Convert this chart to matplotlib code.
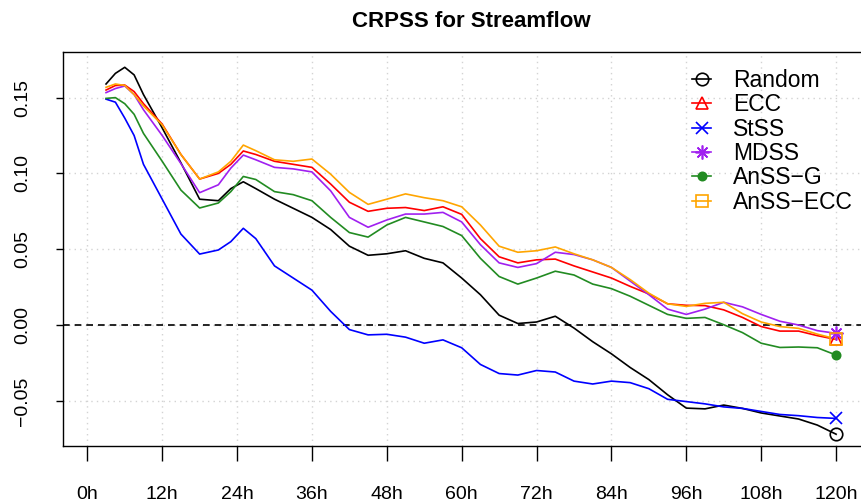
import matplotlib
matplotlib.use("Agg")
import matplotlib.pyplot as plt
from matplotlib.ticker import FuncFormatter

plt.rcParams['font.family'] = ['Liberation Sans', 'DejaVu Sans']

# lead times (hours) at which the skill scores were sampled
hours = [3, 4.5, 6, 7.5, 9, 12, 15, 18, 21, 23, 25, 27, 30, 33, 36, 39, 42, 45,
         48, 51, 54, 57, 60, 63, 66, 69, 72, 75, 78, 81, 84, 87, 90, 93, 96, 99,
         102, 105, 108, 111, 114, 117, 120]

random_ss = [0.159, 0.166, 0.170, 0.165, 0.152, 0.130, 0.107, 0.083, 0.082, 0.090,
             0.0945, 0.090, 0.083, 0.077, 0.071, 0.063, 0.052, 0.046, 0.047, 0.049,
             0.044, 0.041, 0.031, 0.020, 0.0065, 0.001, 0.002, 0.0058, -0.002,
             -0.011, -0.019, -0.028, -0.036, -0.046, -0.0548, -0.0553, -0.0528,
             -0.055, -0.058, -0.060, -0.062, -0.066, -0.072]
ecc = [0.155, 0.158, 0.1583, 0.154, 0.146, 0.1325, 0.1125, 0.0963, 0.100, 0.106,
       0.1148, 0.1125, 0.108, 0.106, 0.104, 0.093, 0.081, 0.075, 0.077, 0.0775,
       0.0755, 0.078, 0.073, 0.057, 0.045, 0.041, 0.043, 0.0435, 0.039, 0.035,
       0.031, 0.0255, 0.0205, 0.014, 0.013, 0.0128, 0.010, 0.005, -0.001, -0.004,
       -0.004, -0.007, -0.0095]
stss = [0.149, 0.147, 0.1365, 0.125, 0.106, 0.083, 0.060, 0.0468, 0.0495, 0.055,
        0.0638, 0.057, 0.039, 0.031, 0.023, 0.009, -0.003, -0.0065, -0.0061,
        -0.008, -0.012, -0.0098, -0.015, -0.026, -0.032, -0.033, -0.030, -0.031,
        -0.037, -0.0389, -0.037, -0.038, -0.042, -0.049, -0.0505, -0.052, -0.054,
        -0.055, -0.057, -0.059, -0.0598, -0.061, -0.0616]
mdss = [0.1533, 0.156, 0.1577, 0.152, 0.142, 0.125, 0.1065, 0.0873, 0.0925, 0.1035,
        0.1121, 0.109, 0.104, 0.103, 0.101, 0.0885, 0.071, 0.0645, 0.0693, 0.0732,
        0.0732, 0.0743, 0.068, 0.053, 0.041, 0.038, 0.0405, 0.048, 0.0465, 0.043,
        0.038, 0.029, 0.020, 0.0105, 0.007, 0.0105, 0.015, 0.012, 0.007, 0.0025,
        0.000, -0.0037, -0.0055]
anss_g = [0.1495, 0.150, 0.146, 0.139, 0.1264, 0.108, 0.089, 0.0772, 0.0805, 0.088,
          0.098, 0.096, 0.088, 0.086, 0.082, 0.071, 0.061, 0.058, 0.066, 0.071,
          0.068, 0.065, 0.059, 0.044, 0.032, 0.027, 0.031, 0.0355, 0.033, 0.027,
          0.024, 0.019, 0.013, 0.007, 0.0044, 0.005, 0.0002, -0.005, -0.012,
          -0.0148, -0.0145, -0.015, -0.0198]
anss_ecc = [0.1568, 0.159, 0.158, 0.152, 0.1445, 0.132, 0.1125, 0.0963, 0.101, 0.108,
            0.1187, 0.115, 0.109, 0.108, 0.1095, 0.0995, 0.0875, 0.0796, 0.083,
            0.0865, 0.084, 0.082, 0.078, 0.066, 0.052, 0.048, 0.049, 0.0515, 0.047,
            0.043, 0.038, 0.030, 0.021, 0.014, 0.0123, 0.0143, 0.015, 0.0075, 0.002,
            -0.001, -0.0022, -0.006, -0.0092]

x_ticks = list(range(0, 121, 12))
x_labels = [f"{h}h" for h in x_ticks]
y_ticks = [-0.05, 0.0, 0.05, 0.10, 0.15]

series = [
    ("Random", random_ss, "black", dict(marker="o", mfc="none", ms=9)),
    ("ECC", ecc, "#FF0000", dict(marker="^", mfc="none", ms=9)),
    ("StSS", stss, "#0000FF", dict(marker="x", ms=9)),
    ("MDSS", mdss, "#A020F0", dict(marker=(8, 2, 0), ms=10)),
    ("AnSS\u2212G", anss_g, "#228B22", dict(marker="o", ms=6)),
    ("AnSS\u2212ECC", anss_ecc, "#FFA500", dict(marker="s", mfc="none", ms=9)),
]

fig = plt.figure(figsize=(8.61, 5.01), dpi=100)
ax = fig.add_axes([63.3 / 861, 55.3 / 501, (866 - 63.3) / 861, (445.7 - 52.3) / 501])

for lbl, vals, col, mk in series:
    ax.plot(hours, vals, color=col, lw=1.2, zorder=3)
    # marker only at the last lead time, plus a line+marker entry for the legend
    ax.plot(hours[-1:], vals[-1:], linestyle="none", color=col, mec=col,
            mew=1.2, zorder=4, **mk)
    ax.plot([], [], color=col, lw=1.2, mec=col, mew=1.2, label=lbl, **mk)

ax.axhline(0, color="black", lw=1.2, linestyle=(0, (4, 3)), zorder=2)

for xv in x_ticks:
    ax.axvline(xv, color="#D3D3D3", lw=1.0, linestyle=(0, (1, 3)), zorder=1)
for yv in y_ticks:
    ax.axhline(yv, color="#D3D3D3", lw=1.0, linestyle=(0, (1, 3)), zorder=1)

ax.set_xlim(-3.85, 124.8)
ax.set_ylim(-0.0796, 0.1799)

ax.set_xticks(x_ticks)
ax.set_xticklabels(x_labels)
ax.set_yticks(y_ticks)
ax.yaxis.set_major_formatter(FuncFormatter(lambda v, p: f"{v:.2f}".replace("-", "\u2212")))

ax.tick_params(axis="x", length=10.8, width=1.0, pad=18, labelsize=14)
ax.tick_params(axis="y", length=5, width=1.0, pad=18, labelsize=14, labelrotation=90)
for t in ax.get_yticklabels():
    t.set_va("center")

for sp in ax.spines.values():
    sp.set_linewidth(1.0)

ax.set_title("CRPSS for Streamflow", fontsize=16, fontweight="bold", pad=18, x=0.5085)

ax.legend(loc="upper left", bbox_to_anchor=(692 / 861, 1 - 69 / 501),
          bbox_transform=fig.transFigure, frameon=False, fontsize=16.5,
          handlelength=0.85, handletextpad=0.95, labelspacing=0.06,
          borderpad=0, borderaxespad=0)

fig.savefig("out.png", dpi=100)
